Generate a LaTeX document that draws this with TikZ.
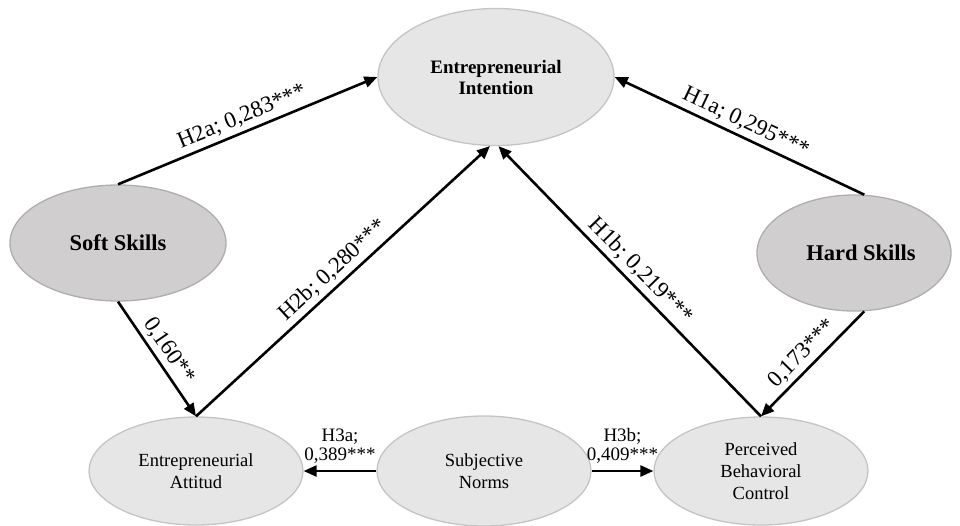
\documentclass[tikz,border=0pt]{standalone}
\usepackage{fontspec}
\setmainfont{Liberation Serif}
\usetikzlibrary{shapes.geometric}
\usetikzlibrary{arrows.meta}
\definecolor{constructfill}{HTML}{E6E6E6}
\definecolor{constructline}{HTML}{C4C4C4}
\definecolor{skillfill}{HTML}{D0CECE}
\definecolor{skillline}{HTML}{AEAEAE}
\tikzset{construct/.style={ellipse,fill=constructfill,draw=constructline,line width=1.3pt,inner sep=0,align=center,font=\fs{18.5}{22}}}
\tikzset{skill/.style={construct,fill=skillfill,draw=skillline,font=\bfseries\fs{22.5}{26}}}
\tikzset{path arrow/.style={-{Triangle[length=13pt,width=11pt]},line width=2.6pt}}
\tikzset{path label/.style={sloped,above,inner sep=4pt,font=\fs{23}{26}}}
\tikzset{norm label/.style={above,inner sep=6pt,align=center,font=\fs{19}{19}}}
\def\fs#1#2{\fontsize{#1}{#2}\selectfont}

\begin{document}
\begin{tikzpicture}[x=1pt,y=-1pt]
          \useasboundingbox (0,0) rectangle (960,525);

          %Entrepreneurial Intention
          \node[construct, minimum width=236pt, minimum height=137pt, font=\bfseries\fs{19}{21}] (EI) at (496,77) {Entrepreneurial\\Intention};

          %Soft Skills, Hard Skills
          \node[skill, minimum width=216pt, minimum height=116pt] (SS) at (118,243) {Soft Skills};
          \node[skill, minimum width=194pt, minimum height=116pt] (HS) at (854,253) {\hspace*{14pt}Hard Skills};

          %untere Reihe
          \node[construct, minimum width=214pt, minimum height=108pt] (EA) at (196,471) {Entrepreneurial\\Attitud};
          \node[construct, minimum width=214pt, minimum height=110pt] (SN) at (484,471) {Subjective\\Norms};
          \node[construct, minimum width=214pt, minimum height=108pt] (PBC) at (761,471) {Perceived\\Behavioral\\Control};

          %Soft Skills -> EI, EA
          \draw[path arrow] (SS.north) to node[path label] {H2a; 0,283***} (EI.west);
          \draw[path arrow] (SS.south) to node[path label] {0,160**} (EA.north);

          %Hard Skills -> EI, PBC
          \draw[path arrow] (HS.80) to node[path label] {H1a; 0,295***} (EI.east);
          \draw[path arrow] (HS.-80) to node[path label] {0,173***} (PBC.north);

          %EA, PBC -> EI
          \draw[path arrow] (EA.north) to node[path label] {H2b; 0,280***} (EI.265);
          \draw[path arrow] (PBC.north) to node[path label] {H1b; 0,219***} (EI.272);

          %Subjective Norms -> EA, PBC
          \draw[path arrow] (SN.west) to node[norm label] {H3a;\\0,389***} (EA.east);
          \draw[path arrow] (SN.east) to node[norm label] {H3b;\\0,409***} (PBC.west);

        \end{tikzpicture}
\end{document}
